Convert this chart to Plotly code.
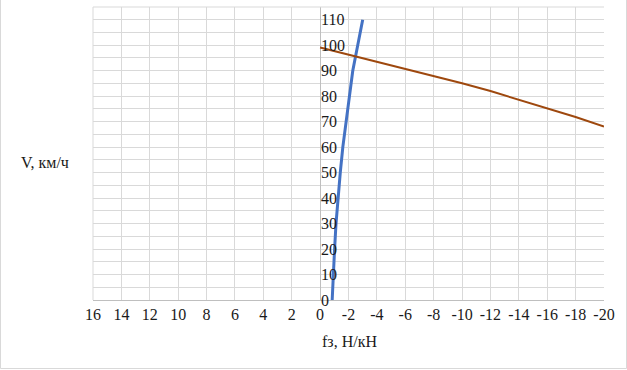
import plotly.graph_objects as go

# Blue series: speed vs f
blue_v = [0, 10, 20, 30, 40, 50, 60, 70, 80, 90, 100, 110]
blue_f = [-0.85, -0.92, -1.02, -1.12, -1.26, -1.42, -1.6, -1.83, -2.05, -2.3, -2.65, -3.0]

# Brown series
brown_f = [0, -2, -4, -6, -8, -10, -12, -14, -16, -18, -20]
brown_v = [99.1, 96.3, 93.6, 91.0, 88.0, 85.1, 82.0, 78.6, 75.3, 71.8, 68.1]

x_ticks = [16, 14, 12, 10, 8, 6, 4, 2, 0, -2, -4, -6, -8, -10, -12, -14, -16, -18, -20]
x_tick_text = [str(v) for v in x_ticks]
y_ticks = [0, 10, 20, 30, 40, 50, 60, 70, 80, 90, 100, 110]

FONT = "Liberation Serif"
TXT = "#1a1a1a"
GRID = "#d9d9d9"
FS = 16

fig = go.Figure()
fig.add_trace(go.Scatter(x=blue_f, y=blue_v, mode="lines",
                         line=dict(color="#4472C4", width=3), showlegend=False))
fig.add_trace(go.Scatter(x=brown_f, y=brown_v, mode="lines",
                         line=dict(color="#9E480E", width=2), showlegend=False))

L, R, T, B = 93, 23, 7, 70
W, H = 627, 370
pw, ph = W - L - R, H - T - B

fig.update_layout(
    width=W, height=H,
    margin=dict(l=L, r=R, t=T, b=B),
    paper_bgcolor="white", plot_bgcolor="white",
    font=dict(family=FONT, size=FS, color=TXT),
    xaxis=dict(range=[16, -20], tickvals=x_ticks, ticktext=x_tick_text,
               showgrid=True, gridcolor=GRID, gridwidth=1,
               zeroline=True, zerolinecolor="#bfbfbf", zerolinewidth=1,
               showline=True, linecolor="#bfbfbf", linewidth=1,
               ticks="", tickfont=dict(family=FONT, size=FS, color=TXT),
               mirror=False),
    yaxis=dict(range=[0, 115], tickvals=y_ticks, showgrid=True, gridcolor=GRID,
               minor=dict(dtick=5, showgrid=True, gridcolor=GRID, gridwidth=1),
               zeroline=False, showline=False, ticks="",
               anchor="free", position=16 / 36, side="right",
               tickfont=dict(family=FONT, size=FS, color=TXT)),
    annotations=[
        dict(text="V, км/ч", xref="paper", yref="paper",
             x=(45 - L) / pw, y=(H - B - 163) / ph, showarrow=False,
             xanchor="center", yanchor="middle",
             font=dict(family=FONT, size=FS, color=TXT)),
        dict(text="fз, Н/кН", xref="paper", yref="paper",
             x=(349 - L) / pw, y=(H - B - 341) / ph, showarrow=False,
             xanchor="center", yanchor="middle",
             font=dict(family=FONT, size=FS, color=TXT)),
    ],
    shapes=[
        dict(type="rect", xref="paper", yref="paper",
             x0=(0.5 - L) / pw, x1=(W - 0.5 - L) / pw,
             y0=(H - B - (H - 1.5)) / ph, y1=(H - B - 0.5 + T) / ph,
             line=dict(color="#d9d9d9", width=1), fillcolor="rgba(0,0,0,0)"),
        dict(type="line", xref="paper", yref="paper", x0=0, x1=1, y0=1, y1=1,
             line=dict(color=GRID, width=1)),
        dict(type="line", xref="paper", yref="paper", x0=0, x1=0, y0=0, y1=1,
             line=dict(color=GRID, width=1)),
    ],
)

fig.write_html("out.html")
